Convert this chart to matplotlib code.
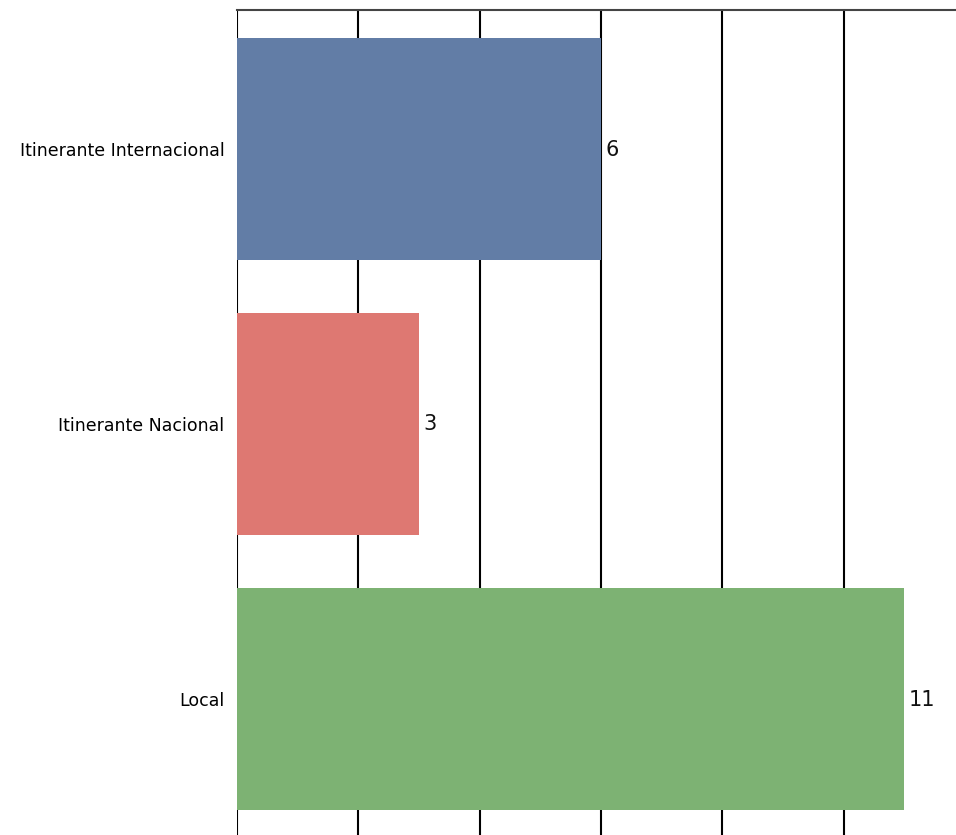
import matplotlib
matplotlib.use("Agg")
import matplotlib.pyplot as plt

categories = ["Itinerante Internacional", "Itinerante Nacional", "Local"]
values = [6, 3, 11]
colors = ["#627da6", "#de7872", "#7db273"]
grid_ticks = [0, 2, 4, 6, 8, 10]

plt.rcParams['font.family'] = ['DejaVu Sans']

fig = plt.figure(figsize=(9.56, 8.35), dpi=100)
ax = fig.add_axes([237 / 956, 0.0, 1 - 237 / 956, 1 - 10 / 835])

ypos = list(range(len(categories)))
ax.barh(ypos, values, height=0.81, color=colors, zorder=3)

for y, v in zip(ypos, values):
    ax.text(v + 0.07, y - 0.005, str(v), va="center_baseline", ha="left",
            fontsize=15, color="#111111", zorder=4)

ax.set_xlim(0, 11.85)
ax.set_ylim(2.495, -0.505)
ax.set_xticks(grid_ticks)
ax.set_xticklabels([])
ax.tick_params(axis="x", length=0)
ax.set_yticks(ypos)
ax.set_yticklabels(categories, fontsize=12.5)
ax.tick_params(axis="y", length=0, pad=9)
ax.xaxis.grid(True, color="black", linewidth=1.5, zorder=1)

for side in ["left", "right", "bottom"]:
    ax.spines[side].set_visible(False)
ax.spines["top"].set_color("#444444")
ax.spines["top"].set_linewidth(1.5)

fig.savefig("out.png", dpi=100)
